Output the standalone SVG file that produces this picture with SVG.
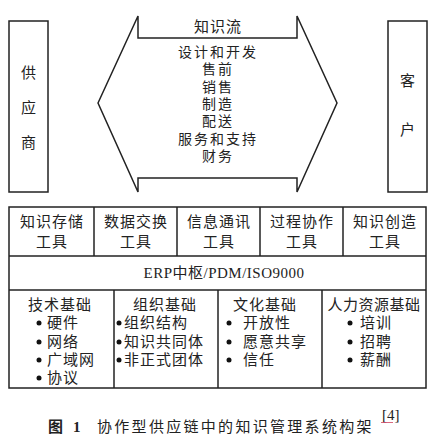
<svg xmlns="http://www.w3.org/2000/svg" width="440" height="439" viewBox="0 0 440 439">
<style>
.box{fill:#fff;stroke:#222;stroke-width:1.5}
.ln{stroke:#222;stroke-width:1.5;fill:none}
.t{font-family:"Liberation Serif","Noto Sans CJK SC",serif;font-size:15px;fill:#222}
.f{font-size:14px;letter-spacing:2px}
.c{text-anchor:middle}
.b{fill:#111}
</style>
<rect width="440" height="439" fill="#fff"/>
<g id="supplier">
<rect class="box" x="9" y="21" width="39" height="171"/>
<text class="t c" x="28.5" y="78">供</text>
<text class="t c" x="28.5" y="113">应</text>
<text class="t c" x="28.5" y="148">商</text>
</g>
<g id="customer">
<rect class="box" x="388" y="21" width="39" height="171"/>
<text class="t c" x="407.5" y="86">客</text>
<text class="t c" x="407.5" y="135">户</text>
</g>
<g id="knowledge-flow">
<polygon class="box" stroke-width="1" points="98,103 138,16 138,38 297,38 297,16 337,103 297,192 297,178 138,178 138,192"/>
<text class="t c" x="218" y="32" letter-spacing="1">知识流</text>
<text class="t c f" x="218" y="57">设计和开发</text>
<text class="t c f" x="218" y="74">售前</text>
<text class="t c f" x="218" y="92">销售</text>
<text class="t c f" x="218" y="109">制造</text>
<text class="t c f" x="218" y="126">配送</text>
<text class="t c f" x="218" y="144">服务和支持</text>
<text class="t c f" x="218" y="161">财务</text>
</g>
<g id="tools">
<rect class="box" x="9" y="207" width="417" height="181"/>
<line class="ln" x1="9" y1="256" x2="426" y2="256"/>
<line class="ln" x1="9" y1="290" x2="426" y2="290"/>
<line class="ln" x1="94" y1="207" x2="94" y2="256"/>
<line class="ln" x1="177" y1="207" x2="177" y2="256"/>
<line class="ln" x1="260" y1="207" x2="260" y2="256"/>
<line class="ln" x1="343" y1="207" x2="343" y2="256"/>
<line class="ln" x1="114" y1="290" x2="114" y2="388"/>
<line class="ln" x1="218" y1="290" x2="218" y2="388"/>
<line class="ln" x1="322" y1="290" x2="322" y2="388"/>
</g>
<g id="tool-storage">
<text class="t c" x="52" y="227" letter-spacing="1">知识存储</text>
<text class="t c" x="52" y="247" letter-spacing="1">工具</text>
</g>
<g id="tool-exchange">
<text class="t c" x="136" y="227" letter-spacing="1">数据交换</text>
<text class="t c" x="136" y="247" letter-spacing="1">工具</text>
</g>
<g id="tool-comm">
<text class="t c" x="219" y="227" letter-spacing="1">信息通讯</text>
<text class="t c" x="219" y="247" letter-spacing="1">工具</text>
</g>
<g id="tool-process">
<text class="t c" x="302" y="227" letter-spacing="1">过程协作</text>
<text class="t c" x="302" y="247" letter-spacing="1">工具</text>
</g>
<g id="tool-create">
<text class="t c" x="385" y="227" letter-spacing="1">知识创造</text>
<text class="t c" x="385" y="247" letter-spacing="1">工具</text>
</g>
<g id="erp">
<text class="t c" x="224" y="278" letter-spacing="0.5">ERP中枢/PDM/ISO9000</text>
</g>
<g id="tech">
<text class="t c" x="60" y="310" letter-spacing="1">技术基础</text>
<circle class="b" cx="39" cy="323" r="2.5"/><text class="t" x="47" y="328" letter-spacing="1">硬件</text>
<circle class="b" cx="39" cy="342" r="2.5"/><text class="t" x="47" y="347" letter-spacing="1">网络</text>
<circle class="b" cx="39" cy="360" r="2.5"/><text class="t" x="47" y="365" letter-spacing="1">广域网</text>
<circle class="b" cx="39" cy="378" r="2.5"/><text class="t" x="47" y="383" letter-spacing="1">协议</text>
</g>
<g id="org">
<text class="t c" x="165" y="310" letter-spacing="1">组织基础</text>
<circle class="b" cx="119" cy="323" r="2.5"/><text class="t" x="124" y="328" letter-spacing="1">组织结构</text>
<circle class="b" cx="119" cy="342" r="2.5"/><text class="t" x="124" y="347" letter-spacing="1">知识共同体</text>
<circle class="b" cx="119" cy="360" r="2.5"/><text class="t" x="124" y="365" letter-spacing="1">非正式团体</text>
</g>
<g id="culture">
<text class="t c" x="265" y="310" letter-spacing="1">文化基础</text>
<circle class="b" cx="229" cy="323" r="2.5"/><text class="t" x="243" y="328" letter-spacing="1">开放性</text>
<circle class="b" cx="229" cy="342" r="2.5"/><text class="t" x="243" y="347" letter-spacing="1">愿意共享</text>
<circle class="b" cx="229" cy="360" r="2.5"/><text class="t" x="243" y="365" letter-spacing="1">信任</text>
</g>
<g id="hr">
<text class="t c" x="374" y="310" letter-spacing="0.5">人力资源基础</text>
<circle class="b" cx="350" cy="323" r="2.5"/><text class="t" x="360" y="328" letter-spacing="1">培训</text>
<circle class="b" cx="350" cy="342" r="2.5"/><text class="t" x="360" y="347" letter-spacing="1">招聘</text>
<circle class="b" cx="350" cy="360" r="2.5"/><text class="t" x="360" y="365" letter-spacing="1">薪酬</text>
</g>
<g id="caption">
<text class="t" x="48" y="432" font-weight="bold">图<tspan x="73">1</tspan></text>
<text class="t" x="97" y="432" letter-spacing="2.3">协作型供应链中的知识管理系统构架</text>
<text class="t" x="382" y="420" font-size="9px">[4]</text>
<line x1="381" y1="422.5" x2="393" y2="422.5" stroke="#d04060" stroke-width="0.8"/>
</g>
</svg>
